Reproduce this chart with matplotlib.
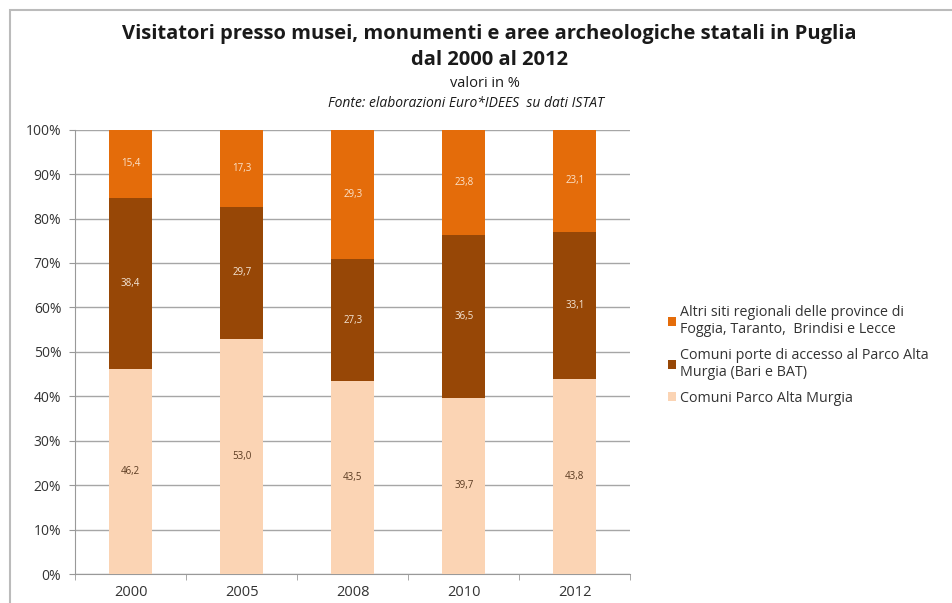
import matplotlib

matplotlib.use("Agg")

import matplotlib.pyplot as plt
import numpy as np
from matplotlib.patches import Rectangle


years = ["2000", "2005", "2008", "2010", "2012"]
parco = [46.2, 53.0, 43.5, 39.7, 43.8]
porte = [38.4, 29.7, 27.3, 36.5, 33.1]
altri = [15.4, 17.3, 29.3, 23.8, 23.1]

series_names = [
    "Comuni Parco Alta Murgia",
    "Comuni porte di accesso al Parco Alta\nMurgia (Bari e BAT)",
    "Altri siti regionali delle province di\nFoggia, Taranto,  Brindisi e Lecce",
]
colors = ["#FBD4B4", "#974706", "#E46C0A"]
label_colors = ["#5a3a20", "#F5E6D6", "#FBE3CC"]

plt.rcParams["font.family"] = ["Open Sans", "DejaVu Sans"]

fig = plt.figure(figsize=(9.52, 6.03), dpi=100)
ax = fig.add_axes([0.079, 0.048, 0.583, 0.737])

x = np.arange(len(years))
width = 0.39
bottom = np.zeros(len(years))
bars_all = []
for vals, col, lcol, name in zip([parco, porte, altri], colors, label_colors, series_names):
    vals = np.array(vals)
    bars = ax.bar(x, vals, width, bottom=bottom, color=col, label=name, zorder=3)
    for xi, b, v in zip(x, bottom, vals):
        ax.text(xi, b + v / 2, f"{v:.1f}".replace(".", ","), ha="center", va="center",
                fontsize=7, color=lcol, zorder=4)
    bottom = bottom + vals
    bars_all.append(bars)

ax.set_xlim(-0.5, len(years) - 0.5)
ax.set_ylim(0, 100)
ax.set_yticks(np.arange(0, 101, 10))
ax.set_yticklabels([f"{v}%" for v in range(0, 101, 10)], fontsize=10, color="#333333")
ax.set_xticks(x)
ax.set_xticklabels(years, fontsize=10.5, color="#333333")
ax.set_xticks(np.arange(-0.5, len(years), 1), minor=True)
ax.tick_params(axis="x", which="major", length=0, pad=8)
ax.tick_params(axis="x", which="minor", length=4, color="#999999")
ax.tick_params(axis="y", length=4, color="#999999", pad=6)
ax.grid(True, axis="y", color="#A6A6A6", linewidth=1.0, zorder=0)
for side in ["top", "right"]:
    ax.spines[side].set_visible(False)
for side in ["left", "bottom"]:
    ax.spines[side].set_color("#999999")

fig.text(0.514, 0.943, "Visitatori presso musei, monumenti e aree archeologiche statali in Puglia",
         ha="center", va="center", fontsize=14.5, fontweight="bold", color="#1a1a1a")
fig.text(0.514, 0.901, "dal 2000 al 2012", ha="center", va="center", fontsize=14.5,
         fontweight="bold", color="#1a1a1a")
fig.text(0.509, 0.862, "valori in %", ha="center", va="center", fontsize=10.5, color="#1a1a1a")
fig.text(0.489, 0.829, "Fonte: elaborazioni Euro*IDEES  su dati ISTAT", ha="center", va="center",
         fontsize=10, style="italic", color="#1a1a1a")

handles = bars_all[::-1]
labels = series_names[::-1]
fig.legend(handles, labels, loc="upper left", bbox_to_anchor=(0.688, 0.516), frameon=False,
           fontsize=10.3, handlelength=0.6, handleheight=0.6, handletextpad=0.25,
           labelspacing=0.75, labelcolor="#333333")

fig.patches.append(Rectangle((0.011, -0.01), 1.0, 0.994, transform=fig.transFigure,
                             fill=False, edgecolor="#BBBBBB", linewidth=1.5))

fig.savefig("out.png", dpi=100)
